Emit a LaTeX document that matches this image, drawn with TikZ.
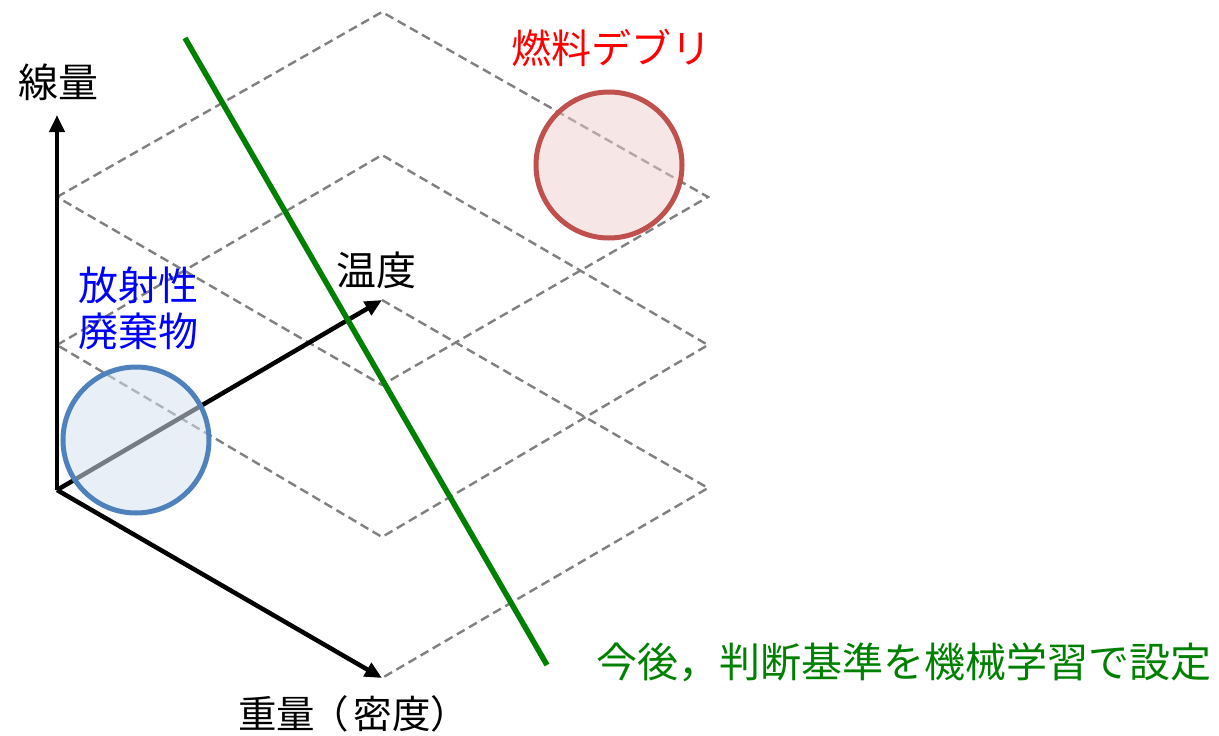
\documentclass[tikz,border=0pt]{standalone}
\usepackage{fontspec}
\setmainfont{Noto Sans CJK JP}
\usetikzlibrary{arrows.meta}
\definecolor{dashgray}{RGB}{128,128,128}
\definecolor{critgreen}{RGB}{0,128,0}
\definecolor{wasteedge}{RGB}{79,129,189}
\definecolor{wastefill}{RGB}{215,226,240}
\definecolor{debrisedge}{RGB}{192,80,77}
\definecolor{debrisfill}{RGB}{238,205,204}
\tikzset{
  gridline/.style={draw=dashgray, line width=2.4pt, dash pattern=on 9pt off 5pt},
  axisline/.style={draw=black, line width=4.5pt, -{Triangle[length=17pt,width=15pt]}},
  lbl/.style={font=\fontsize{40}{46}\selectfont, inner sep=0pt, anchor=west},
}
\begin{document}
\begin{tikzpicture}[x=1pt,y=-1pt]
\useasboundingbox (0,0) rectangle (1219,736);
% layer vertices
\coordinate (O) at (57,490);
\coordinate (T) at (382,300);
\coordinate (R) at (708,488);
\coordinate (W) at (382,678);
\coordinate (V) at (57,115);
\coordinate (M1) at (57,345);
\coordinate (M2) at (382,155);
\coordinate (M3) at (708,345);
\coordinate (M4) at (382,537);
\coordinate (U1) at (57,197);
\coordinate (U2) at (382,12);
\coordinate (U3) at (708,197);
\coordinate (U4) at (382,385);
\coordinate (G1) at (185,38);
\coordinate (G2) at (547,665);
% dashed planes
\draw[gridline] (T) -- (R) -- (W);
\draw[gridline] (M1) -- (M2) -- (M3) -- (M4) -- cycle;
\draw[gridline] (U1) -- (U2) -- (U3) -- (U4) -- cycle;
% axes
\draw[axisline] (O) -- (V);
\draw[axisline] (O) -- (T);
\draw[axisline] (O) -- (W);
% circles
\node[circle, minimum size=146pt, line width=5pt, draw=wasteedge, fill=wastefill, fill opacity=0.55, draw opacity=1] (waste) at (136,440) {};
\node[circle, minimum size=146pt, line width=5pt, draw=debrisedge, fill=debrisfill, fill opacity=0.5, draw opacity=1] (debris) at (609,165) {};
% green criterion line
\draw[draw=critgreen, line width=5.5pt] (G1) -- (G2);
% labels
\node[lbl] (lv) at (18,82) {線量};
\node[lbl] (lt) at (336,270) {温度};
\node[lbl, font=\fontsize{38.5}{46}\selectfont] (lw) at (238,714) {重量\kern-5pt（\kern5pt密度）};
\node[lbl, text=blue, align=left] (lwaste) at (78,308) {放射性\\廃棄物};
\node[lbl, text=red] (ldebris) at (511,48) {燃料デブリ};
\node[lbl, text=critgreen, font=\fontsize{41}{46}\selectfont] (lcrit) at (596,662) {今後，判断基準を機械学習で設定};
\end{tikzpicture}
\end{document}
